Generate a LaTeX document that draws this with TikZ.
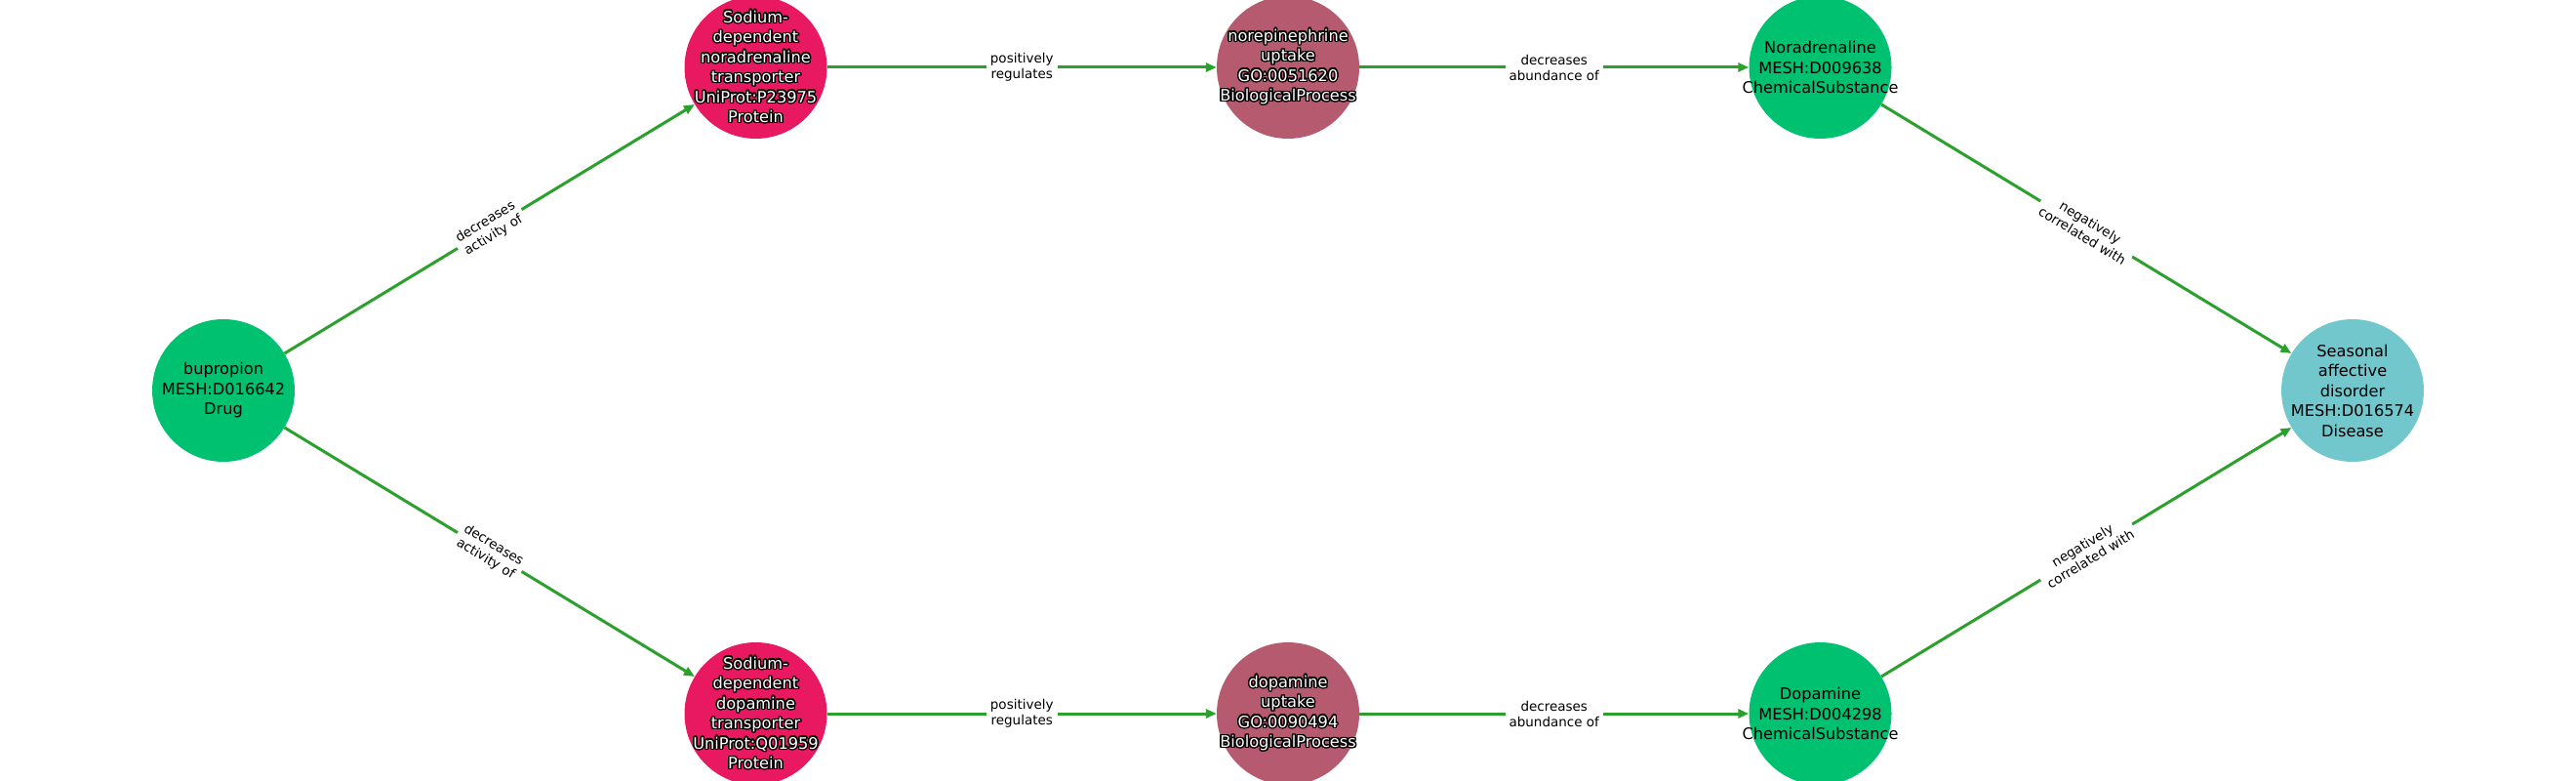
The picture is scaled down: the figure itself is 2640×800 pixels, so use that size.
\documentclass[tikz,border=0pt]{standalone}
\usepackage{fontspec}
\setmainfont{DejaVu Sans}
\usepackage[copies]{contour}
\contourlength{1.4pt}
\usetikzlibrary{arrows.meta}

\definecolor{drugc}{RGB}{0,193,112}
\definecolor{protc}{RGB}{232,25,96}
\definecolor{procc}{RGB}{182,90,112}
\definecolor{disc}{RGB}{113,199,204}
\definecolor{egreen}{RGB}{44,160,44}

% white text with black rim
\newcommand{\wt}[1]{\contour{black}{#1}}

\begin{document}
\begin{tikzpicture}[x=1pt, y=-1pt,
  ent/.style={circle, minimum size=146pt, inner sep=0pt},
  etxt/.style={align=center, inner sep=0pt, font=\fontsize{16.2}{20.5}\selectfont},
  wtxt/.style={etxt, text=white},
  edge/.style={draw=egreen, line width=3pt, -{Triangle[length=11pt,width=9pt]}},
  elab/.style={fill=white, inner sep=4pt, align=center, sloped, font=\fontsize{13.5}{16}\selectfont}]

  %% ════ 节点（圆）════
  \node[ent, fill=drugc] (bup) at (229,400) {};
  \node[ent, fill=protc] (net) at (774.5,69) {};
  \node[ent, fill=procc] (neu) at (1320,69) {};
  \node[ent, fill=drugc] (nad) at (1865.5,69) {};
  \node[ent, fill=disc]  (sad) at (2411,400) {};
  \node[ent, fill=protc] (dat) at (774.5,731) {};
  \node[ent, fill=procc] (dau) at (1320,731) {};
  \node[ent, fill=drugc] (dop) at (1865.5,731) {};

  %% ════ 节点文字 ════
  \node[etxt] (bup-t) at (bup) {bupropion\\MESH:D016642\\Drug};
  \node[wtxt] (net-t) at (net) {\wt{Sodium-}\\\wt{dependent}\\\wt{noradrenaline}\\\wt{transporter}\\\wt{UniProt:P23975}\\\wt{Protein}};
  \node[wtxt] (neu-t) at (neu) {\wt{norepinephrine}\\\wt{uptake}\\\wt{GO:0051620}\\\wt{BiologicalProcess}};
  \node[etxt] (nad-t) at (nad) {Noradrenaline\\MESH:D009638\\ChemicalSubstance};
  \node[etxt] (sad-t) at (sad) {Seasonal\\affective\\disorder\\MESH:D016574\\Disease};
  \node[wtxt] (dat-t) at (dat) {\wt{Sodium-}\\\wt{dependent}\\\wt{dopamine}\\\wt{transporter}\\\wt{UniProt:Q01959}\\\wt{Protein}};
  \node[wtxt] (dau-t) at (dau) {\wt{dopamine}\\\wt{uptake}\\\wt{GO:0090494}\\\wt{BiologicalProcess}};
  \node[etxt] (dop-t) at (dop) {Dopamine\\MESH:D004298\\ChemicalSubstance};

  %% ════ 边 ════
  \draw[edge] (bup) -- node[elab] (l1) {decreases\\activity of} (net);
  \draw[edge] (net) -- node[elab] (l2) {positively\\regulates} (neu);
  \draw[edge] (neu) -- node[elab] (l3) {decreases\\abundance of} (nad);
  \draw[edge] (nad) -- node[elab] (l4) {negatively\\correlated with} (sad);
  \draw[edge] (bup) -- node[elab] (l5) {decreases\\activity of} (dat);
  \draw[edge] (dat) -- node[elab] (l6) {positively\\regulates} (dau);
  \draw[edge] (dau) -- node[elab] (l7) {decreases\\abundance of} (dop);
  \draw[edge] (dop) -- node[elab] (l8) {negatively\\correlated with} (sad);

  % 钉死画布
  \pgfresetboundingbox
  \path[use as bounding box] (0,0) rectangle (2640,800);
\end{tikzpicture}
\end{document}
